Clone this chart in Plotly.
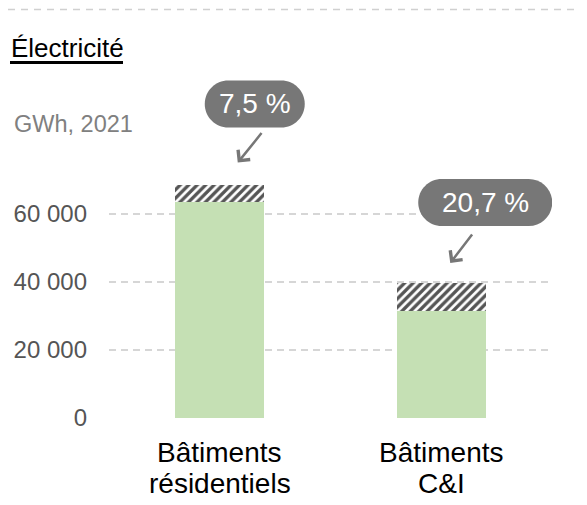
import plotly.graph_objects as go

categories = ["Bâtiments résidentiels", "Bâtiments C&I"]
category_lines = [["Bâtiments", "résidentiels"], ["Bâtiments", "C&I"]]
base_values = [63500, 31500]
hatched_values = [5150, 8200]
share_labels = ["7,5 %", "20,7 %"]
tick_values = [0, 20000, 40000, 60000]
tick_labels = ["0", "20 000", "40 000", "60 000"]

OFF = 8  # browser body margin
W, H = 587 - OFF, 505 - OFF
# plot area in window pixels
PL, PR, PT, PB = 109, 552, 61, 418
L, R, T, B = PL - OFF, 587 - PR, PT - OFF, 505 - PB
PW, PH = PR - PL, PB - PT

def px_x(p):
    return (p - PL) / PW

def px_y(p):
    return (PB - p) / PH

FONT = "Liberation Sans, Arial"

fig = go.Figure()
fig.add_trace(go.Bar(x=categories, y=base_values, marker=dict(color="#c5e0b4", line=dict(width=0)),
                     width=0.4, showlegend=False, hoverinfo="skip"))
fig.add_trace(go.Bar(x=categories, y=hatched_values,
                     marker=dict(color="white", line=dict(width=0),
                                 pattern=dict(shape="/", fgcolor="#555555", bgcolor="white",
                                              fgopacity=1, size=6, solidity=0.55)),
                     width=0.4, showlegend=False, hoverinfo="skip"))

totals = [b + h for b, h in zip(base_values, hatched_values)]

def pill_path(x0, x1, y0, y1):
    r = (y1 - y0) / 2
    k = 0.5523 * r
    cy = (y0 + y1) / 2
    return (f"M{x0 + r},{y0} L{x1 - r},{y0} "
            f"C{x1 - r + k},{y0} {x1},{cy - k} {x1},{cy} "
            f"C{x1},{cy + k} {x1 - r + k},{y1} {x1 - r},{y1} "
            f"L{x0 + r},{y1} "
            f"C{x0 + r - k},{y1} {x0},{cy + k} {x0},{cy} "
            f"C{x0},{cy - k} {x0 + r - k},{y0} {x0 + r},{y0} Z")

pill_widths = [100, 134]
pill_left = [-15, -23]
arrow_head = [(18, 22), (9, 20)]
arrow_vec = [(25, -31), (23, -30)]
for i, (cat, tot, lab) in enumerate(zip(categories, totals, share_labels)):
    x0 = pill_left[i]
    x1 = x0 + pill_widths[i]
    fig.add_shape(type="path", xref="x", yref="y", xsizemode="pixel", ysizemode="pixel",
                  xanchor=i, yanchor=tot, path=pill_path(x0, x1, 57, 104),
                  fillcolor="#777777", line=dict(width=0), layer="above")
    fig.add_annotation(x=cat, y=tot, text=lab, showarrow=False, xshift=(x0 + x1) / 2, yshift=81,
                       font=dict(family=FONT, size=28, color="white"))
    fig.add_annotation(x=cat, y=tot, text="", showarrow=True,
                       xshift=arrow_head[i][0], yshift=arrow_head[i][1],
                       ax=arrow_vec[i][0], ay=arrow_vec[i][1],
                       arrowhead=4, arrowsize=1.2, arrowwidth=2.5, arrowcolor="#777777",
                       font=dict(size=1))
    for j, line in enumerate(category_lines[i]):
        fig.add_annotation(x=cat, y=0, text=line, showarrow=False, yanchor="middle",
                           yshift=-(34 + 31 * j), font=dict(family=FONT, size=28, color="black"))

fig.add_annotation(xref="paper", yref="paper", x=px_x(9), y=px_y(48), xanchor="left", yanchor="middle",
                   text="Électricité", showarrow=False,
                   font=dict(family=FONT, size=26, color="black"))
fig.add_shape(type="line", xref="paper", yref="paper", x0=px_x(10), x1=px_x(123), y0=px_y(62.5), y1=px_y(62.5),
              line=dict(color="black", width=3))
fig.add_annotation(xref="paper", yref="paper", x=px_x(12), y=px_y(124), xanchor="left", yanchor="middle",
                   text="GWh, 2021", showarrow=False,
                   font=dict(family=FONT, size=23.5, color="#808080"))
fig.add_shape(type="line", xref="paper", yref="paper", x0=px_x(OFF), x1=px_x(587), y0=px_y(9.5), y1=px_y(9.5),
              line=dict(color="#d0d0d0", width=1.5, dash="7px,6px"))

fig.update_layout(
    width=W, height=H, margin=dict(l=L, r=R, t=T, b=B, autoexpand=False),
    barmode="stack",
    plot_bgcolor="white", paper_bgcolor="white",
    font=dict(family=FONT),
    xaxis=dict(range=[-0.5, 1.5], showgrid=False, showline=False, zeroline=False, ticks="",
               showticklabels=False, automargin=False),
    yaxis=dict(range=[0, (PB - PT) / 68 * 20000], tickvals=tick_values, ticktext=tick_labels, showgrid=True,
               gridcolor="#d6d6d6", gridwidth=1.5, griddash="7px,5px", zeroline=False, showline=False,
               ticks="", tickfont=dict(size=24, color="#555555"), ticklabelstandoff=21, automargin=False),
)

fig.write_html("out.html")
